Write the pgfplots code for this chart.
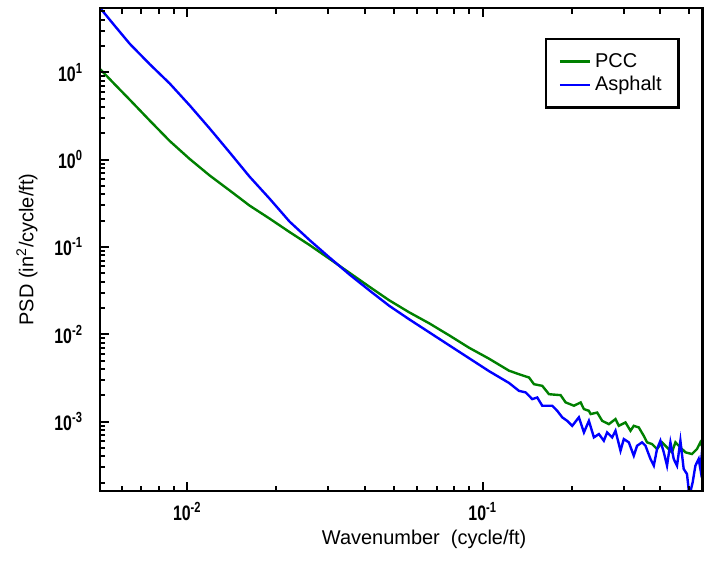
\documentclass[border=0pt]{standalone}
\usepackage{pgfplots}
\pgfplotsset{compat=1.18}
\usepackage{fontspec}
\setmainfont{Liberation Sans}
\usepackage{graphicx}
\definecolor{pccgreen}{RGB}{0,128,0}
\definecolor{asphblue}{RGB}{0,0,255}
% narrow bold tick labels
\newcommand{\tklab}[1]{\scalebox{0.76}[1]{\bfseries 10\textsuperscript{#1}}}

\begin{document}
\begin{tikzpicture}
\path (-50pt,-36pt) rectangle (302pt,246pt);
\begin{axis}[
    at={(0,0)}, anchor=south west,
    scale only axis, width=302pt, height=242pt,
    xmode=log, ymode=log,
    xmin=5.06e-3, xmax=0.556,
    ymin=1.6e-4, ymax=54.6,
    axis on top,
    axis line style={line width=1.3pt},
    ytick pos=left,
    major tick length=4.5pt, minor tick length=2.8pt,
    every major tick/.append style={black, line width=1pt},
    every minor tick/.append style={black, line width=1pt},
    xtick={0.01,0.1}, xticklabels={\tklab{-2},\tklab{-1}},
    ytick={1e-3,1e-2,1e-1,1,10},
    yticklabels={\tklab{-3},\tklab{-2},\tklab{-1},\tklab{0},\tklab{1}},
    ticklabel style={font=\fontsize{10.5}{12}\selectfont},
    yticklabel style={xshift=-5pt},
    xticklabel style={yshift=-2pt},
    label style={font=\fontsize{10}{12}\selectfont},
    xlabel={Wavenumber~ (cycle/ft)},
    ylabel={PSD (in\textsuperscript{2}/cycle/ft)},
    xlabel style={at={(axis description cs:0.538,-0.0992)}, anchor=center},
    ylabel style={at={(axis description cs:-0.1209,0.5)}, anchor=center},
    legend style={at={(axis description cs:0.962,0.938)}, anchor=north east,
        draw=black, line width=1.2pt, font=\fontsize{10}{12}\selectfont,
        inner xsep=6.5pt, inner ysep=5pt, row sep=-1pt},
    legend cell align=left,
    legend image code/.code={\draw[#1, line width=1.2pt] (0pt,0pt) -- (15pt,0pt);},
]
% PCC
\addplot[pccgreen, line width=1.2pt] coordinates {
(5.063e-3,10.96) (5.690e-3,7.27) (6.394e-3,4.85) (7.469e-3,2.805) (8.727e-3,1.636)
(1.0195e-2,1.019) (1.191e-2,0.6597) (1.392e-2,0.4446) (1.626e-2,0.2980) (1.900e-2,0.2117)
(2.220e-2,0.1484) (2.594e-2,0.1054) (3.030e-2,0.0733) (3.540e-2,0.0507) (4.136e-2,0.03509)
(4.832e-2,0.02447) (5.645e-2,0.01784) (6.596e-2,0.01336) (7.704e-2,9.74e-3) (9.003e-2,7.01e-3)
(0.1052,5.25e-3) (0.1229,3.83e-3) (0.1328,3.49e-3) (0.1436,3.20e-3) (0.1493,2.68e-3)
(0.1592,2.57e-3) (0.1678,2.06e-3) (0.1837,2.01e-3) (0.1910,1.66e-3) (0.2038,1.52e-3)
(0.2147,1.66e-3) (0.2203,1.39e-3) (0.2290,1.33e-3) (0.2321,1.22e-3) (0.2443,1.27e-3)
(0.2540,1.02e-3) (0.2676,9.36e-4) (0.2818,1.07e-3) (0.2891,8.95e-4) (0.3046,9.79e-4)
(0.3167,7.85e-4) (0.3249,8.95e-4) (0.3378,8.58e-4) (0.3512,6.88e-4) (0.3604,5.79e-4)
(0.3747,5.53e-4) (0.3895,4.85e-4) (0.4050,5.79e-4) (0.4210,5.07e-4) (0.4377,4.45e-4)
(0.4494,5.79e-4) (0.4673,5.07e-4) (0.4858,4.45e-4) (0.5114,4.25e-4) (0.5317,4.85e-4)
(0.5460,5.79e-4) (0.5558,5.07e-4) (0.57,5.5e-4)
};
\addlegendentry{PCC}
% Asphalt
\addplot[asphblue, line width=1.2pt] coordinates {
(5.063e-3,55) (5.690e-3,34.0) (6.394e-3,21.2) (7.469e-3,12.4) (8.727e-3,7.45)
(1.0195e-2,4.185) (1.191e-2,2.279) (1.392e-2,1.212) (1.626e-2,0.639) (1.900e-2,0.3584)
(2.220e-2,0.1956) (2.594e-2,0.1202) (3.030e-2,0.0759) (3.540e-2,0.0485) (4.136e-2,0.03184)
(4.832e-2,0.02117) (5.645e-2,0.01484) (6.596e-2,0.01054) (7.704e-2,7.49e-3) (9.003e-2,5.32e-3)
(0.1052,3.78e-3) (0.1229,2.77e-3) (0.1328,2.25e-3) (0.1399,2.16e-3) (0.1473,1.81e-3)
(0.1531,1.89e-3) (0.1592,1.52e-3) (0.1721,1.52e-3) (0.1789,1.33e-3) (0.1860,1.12e-3)
(0.1934,1.02e-3) (0.2011,8.95e-4) (0.2118,1.12e-3) (0.2203,7.53e-4) (0.2290,1.02e-3)
(0.2381,6.60e-4) (0.2475,7.20e-4) (0.2573,6.04e-4) (0.2640,7.53e-4) (0.2745,6.60e-4)
(0.2818,7.85e-4) (0.2930,4.64e-4) (0.3006,6.31e-4) (0.3126,5.79e-4) (0.3249,4.07e-4)
(0.3334,5.29e-4) (0.3467,5.79e-4) (0.3560,5.29e-4) (0.3701,3.73e-4) (0.3798,3.13e-4)
(0.3895,4.85e-4) (0.3999,6.04e-4) (0.4105,4.45e-4) (0.4210,3.13e-4) (0.4323,5.79e-4)
(0.4436,3.73e-4) (0.4551,3.13e-4) (0.4673,6.04e-4) (0.4794,2.87e-4) (0.4919,2.51e-4)
(0.5012,1.4e-4) (0.5142,2.02e-4) (0.5252,3.13e-4) (0.5388,3.73e-4) (0.5460,2.87e-4)
(0.5528,4.45e-4) (0.57,3.7e-4)
};
\addlegendentry{Asphalt}
\end{axis}
% frame and tick marks, open on the right as in the cropped original
\draw[line width=1.3pt, line join=miter] (302pt,242pt) -- (0pt,242pt) -- (0pt,0pt) -- (302pt,0pt);
\foreach \dd in {-3,-2,-1}{
  \foreach \mm in {1,...,9}{
    \pgfmathsetmacro\tkpos{(\dd+log10(\mm)+2.2958)*147.97}
    \pgfmathsetmacro\tklen{ifthenelse(\mm==1,4.5,2.8)}
    \ifdim\tkpos pt>0.5pt \ifdim\tkpos pt<301.5pt
      \draw[line width=1pt] (\tkpos pt,0pt) -- ++(0pt,\tklen pt);
      \draw[line width=1pt] (\tkpos pt,242pt) -- ++(0pt,-\tklen pt);
    \fi\fi
  }
}
\foreach \dd in {-4,...,1}{
  \foreach \mm in {1,...,9}{
    \pgfmathsetmacro\tkpos{(\dd+log10(\mm)+3.7959)*43.737}
    \pgfmathsetmacro\tklen{ifthenelse(\mm==1,4.5,2.8)}
    \ifdim\tkpos pt>0.5pt \ifdim\tkpos pt<241.5pt
      \draw[line width=1pt] (0pt,\tkpos pt) -- ++(\tklen pt,0pt);
    \fi\fi
  }
}
\end{tikzpicture}
\end{document}
